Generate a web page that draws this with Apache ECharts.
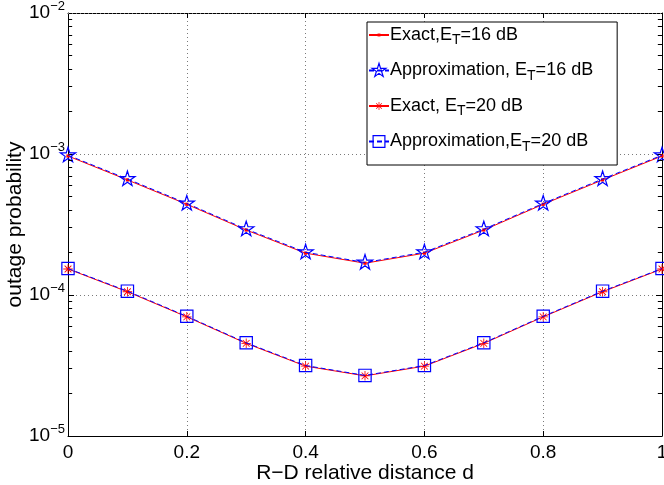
<!DOCTYPE html>
<html>
<head>
<meta charset="utf-8">
<script src="https://cdn.jsdelivr.net/npm/echarts@6/dist/echarts.min.js"></script>
<style>html,body{margin:0;padding:0;background:#fff}#c{width:664px;height:485px}</style>
</head>
<body>
<div id="c"></div>
<script>
// ---- data ----
const dValues = [0, 0.1, 0.2, 0.3, 0.4, 0.5, 0.6, 0.7, 0.8, 0.9, 1];
const exact16 = [9.68e-4, 6.55e-4, 4.40e-4, 2.89e-4, 1.98e-4, 1.68e-4, 1.98e-4, 2.89e-4, 4.40e-4, 6.55e-4, 9.68e-4];
const approx16 = [9.80e-4, 6.65e-4, 4.46e-4, 2.93e-4, 2.01e-4, 1.70e-4, 2.01e-4, 2.93e-4, 4.46e-4, 6.65e-4, 9.80e-4];
const exact20 = [1.53e-4, 1.055e-4, 7.0e-5, 4.54e-5, 3.13e-5, 2.67e-5, 3.13e-5, 4.54e-5, 7.0e-5, 1.055e-4, 1.53e-4];
const approx20 = [1.54e-4, 1.065e-4, 7.06e-5, 4.58e-5, 3.16e-5, 2.69e-5, 3.16e-5, 4.58e-5, 7.06e-5, 1.065e-4, 1.54e-4];
const xTicks = [0, 0.2, 0.4, 0.6, 0.8, 1];
const yDecades = [1e-5, 1e-4, 1e-3, 1e-2];
const minorMultipliers = [2, 3, 4, 5, 6, 7, 8, 9];
const legendNames = ['Exact16', 'Approx16', 'Exact20', 'Approx20'];
const legendTexts = {
  Exact16: ['Exact,E', 'T', '=16 dB'],
  Approx16: ['Approximation, E', 'T', '=16 dB'],
  Exact20: ['Exact, E', 'T', '=20 dB'],
  Approx20: ['Approximation,E', 'T', '=20 dB']
};
const xName = 'R\u2212D relative distance d';
const yName = 'outage probability';

// ---- build ----
const FONT = '"Liberation Sans", Arial, Helvetica, sans-serif';
const pairs = arr => arr.map((v, i) => [dValues[i], v]);
const minorVals = [];
for (let k = 0; k < yDecades.length - 1; k++) {
  minorMultipliers.forEach(m => minorVals.push(m * yDecades[k]));
}
// all symbol paths share a 100x100 bounding box (forced by the two moveTo points)
const BOX = 'M0,0 M100,100 ';
const starPath = 'path://M50,0 L61,35 L98,35 L68,57 L79,91 L50,70 L21,91 L32,57 L2,35 L39,35 Z M0,0 M100,100';
const squarePath = 'path://' + BOX + 'M9,9 L91,9 L91,91 L9,91 Z';
const dotPath = 'path://' + BOX + 'M40,40 L60,40 L60,60 L40,60 Z';
const asteriskPath = 'path://' + BOX +
  'M22,47.5 L78,47.5 L78,52.5 L22,52.5 Z ' +
  'M47.5,22 L52.5,22 L52.5,78 L47.5,78 Z ' +
  'M31.9,28.4 L71.6,68.1 L68.1,71.6 L28.4,31.9 Z ' +
  'M28.4,68.1 L68.1,28.4 L71.6,31.9 L31.9,71.6 Z';
const RED = '#ff0000', BLUE = '#0000ff';
const gridDot = { type: [1, 3], color: '#7a7a7a', width: 1 };
const hollowBlue = { color: 'rgba(255,255,255,0)', borderColor: BLUE, borderWidth: 1.2 };

const tickSegs = [];
minorVals.forEach(v => {
  tickSegs.push([{ coord: [0, v] }, { coord: [0.007, v] }]);
  tickSegs.push([{ coord: [0.993, v] }, { coord: [1, v] }]);
});

const option = {
  animation: false,
  backgroundColor: '#fff',
  grid: { left: 68, right: 2, top: 13, bottom: 49, containLabel: false, outerBoundsMode: 'none' },
  legend: {
    data: [
      { name: 'Exact16', itemStyle: { color: RED, borderWidth: 0 } },
      { name: 'Approx16', itemStyle: hollowBlue },
      { name: 'Exact20', itemStyle: { color: RED, borderWidth: 0 } },
      { name: 'Approx20', itemStyle: hollowBlue }
    ],
    orient: 'vertical',
    left: 367, top: 22,
    backgroundColor: '#fff',
    borderColor: '#000', borderWidth: 1,
    padding: [4, 24, 11, 1],
    itemGap: 14,
    itemWidth: 20, itemHeight: 18,
    formatter: name => {
      const t = legendTexts[name];
      return '{n|' + t[0] + '}{s|' + t[1] + '}{n|' + t[2] + '}';
    },
    textStyle: {
      fontFamily: FONT, fontSize: 18, color: '#000', padding: [0, 0, 0, -4],
      rich: {
        n: { fontFamily: FONT, fontSize: 18, color: '#000' },
        s: { fontFamily: FONT, fontSize: 14, color: '#000', padding: [11, 0, 0, 0] }
      }
    }
  },
  xAxis: [{
    type: 'value', min: 0, max: 1, interval: 0.2,
    name: xName, nameLocation: 'middle', nameGap: 27, nameMoveOverlap: false,
    nameTextStyle: { fontFamily: FONT, fontSize: 21, color: '#000', verticalAlign: 'top' },
    axisLine: { show: true, onZero: false, lineStyle: { color: '#000', width: 1 } },
    axisTick: { show: true, inside: true, length: 5, lineStyle: { color: '#000' } },
    axisLabel: { fontFamily: FONT, fontSize: 19, color: '#000', margin: 7,
      formatter: v => String(+v.toFixed(1)) },
    splitLine: { show: true, lineStyle: gridDot }
  }, {
    type: 'value', min: 0, max: 1, interval: 0.2, position: 'top',
    axisLine: { show: true, onZero: false, lineStyle: { color: '#000', width: 1 } },
    axisTick: { show: true, inside: true, length: 5, lineStyle: { color: '#000' } },
    axisLabel: { show: false }, splitLine: { show: false }
  }],
  yAxis: [{
    type: 'log', logBase: 10, min: 1e-5, max: 1e-2, interval: 1,
    name: yName, nameLocation: 'middle', nameGap: 42, nameRotate: 90, nameMoveOverlap: false,
    nameTextStyle: { fontFamily: FONT, fontSize: 21, color: '#000' },
    axisLine: { show: true, onZero: false, lineStyle: { color: '#000', width: 1 } },
    axisTick: { show: true, inside: true, length: 6, lineStyle: { color: '#000' } },
    axisLabel: {
      fontFamily: FONT, fontSize: 19, color: '#000', margin: 3,
      formatter: v => {
        const e = Math.round(Math.log10(v));
        return '{b|10}{e|\u2212' + Math.abs(e) + '}';
      },
      rich: {
        b: { fontFamily: FONT, fontSize: 19, color: '#000' },
        e: { fontFamily: FONT, fontSize: 13, color: '#000', padding: [0, 0, 13, 0] }
      }
    },
    splitLine: { show: true, lineStyle: gridDot }
  }, {
    type: 'log', logBase: 10, min: 1e-5, max: 1e-2, interval: 1, position: 'right',
    axisLine: { show: true, onZero: false, lineStyle: { color: '#000', width: 1 } },
    axisTick: { show: true, inside: true, length: 6, lineStyle: { color: '#000' } },
    axisLabel: { show: false }, splitLine: { show: false }
  }],
  series: [
    {
      name: 'Exact16', type: 'line', data: pairs(exact16),
      symbol: dotPath, symbolSize: 16,
      lineStyle: { color: RED, width: 1 },
      itemStyle: { color: RED, borderWidth: 0 },
      z: 3,
      markLine: {
        silent: true, symbol: 'none', animation: false,
        label: { show: false },
        lineStyle: gridDot,
        emphasis: { disabled: true },
        data: minorVals.map(v => ({ yAxis: v })).concat(
          tickSegs.map(s => [Object.assign({ lineStyle: { type: 'solid', color: '#000' } }, s[0]), s[1]])
        )
      }
    },
    {
      name: 'Approx16', type: 'line', data: pairs(approx16),
      symbol: starPath, symbolSize: 16,
      lineStyle: { color: BLUE, width: 1, type: [5, 3] },
      itemStyle: hollowBlue,
      z: 4
    },
    {
      name: 'Exact20', type: 'line', data: pairs(exact20),
      symbol: asteriskPath, symbolSize: 17,
      lineStyle: { color: RED, width: 1 },
      itemStyle: { color: RED, borderWidth: 0 },
      z: 3
    },
    {
      name: 'Approx20', type: 'line', data: pairs(approx20),
      symbol: squarePath, symbolSize: 15,
      lineStyle: { color: BLUE, width: 1, type: [5, 3] },
      itemStyle: hollowBlue,
      z: 4
    }
  ]
};
const chart = echarts.init(document.getElementById('c'), null, { renderer: 'canvas' });
chart.setOption(option);
</script>
</body>
</html>
